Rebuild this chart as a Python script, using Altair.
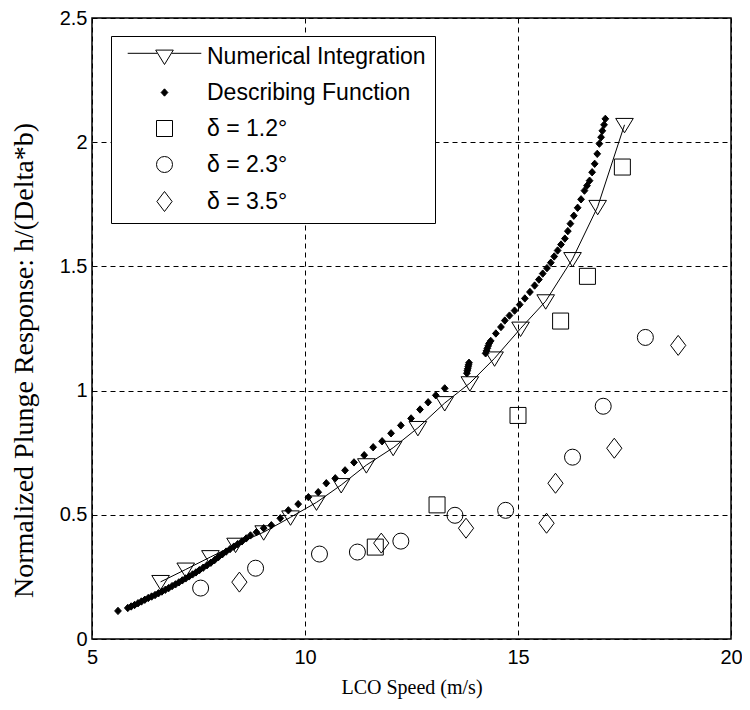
import altair as alt
import pandas as pd

# ---------------- data ----------------
ni_speed = [6.61, 7.20, 7.78, 8.37, 9.03, 9.66, 10.27, 10.85, 11.44, 12.07,
            12.65, 13.28, 13.87, 14.45, 15.06, 15.65, 16.28, 16.87, 17.50]
ni_resp = [0.23, 0.28, 0.33, 0.38, 0.43, 0.49, 0.55, 0.62, 0.70, 0.77,
           0.85, 0.95, 1.03, 1.13, 1.25, 1.36, 1.53, 1.74, 2.07]

df_speed = [5.61, 5.84, 5.92, 6.00, 6.08, 6.16, 6.24, 6.32, 6.40, 6.48,
            6.56, 6.64, 6.72, 6.80, 6.88, 6.96, 7.04, 7.12, 7.20, 7.28,
            7.36, 7.44, 7.52, 7.61, 7.70, 7.79, 7.88, 7.97, 8.06, 8.15,
            8.24, 8.33, 8.42, 8.52, 8.62, 8.72,
            8.86, 9.03, 9.21, 9.42, 9.61, 9.84, 10.08, 10.31, 10.50, 10.71,
            10.94, 11.15, 11.39, 11.60, 11.81, 12.02, 12.25, 12.49, 12.70, 12.89,
            13.07, 13.28,
            13.80, 13.81, 13.82, 13.83, 13.84, 13.85,
            14.24, 14.26, 14.28, 14.30, 14.32, 14.36,
            14.48, 14.60, 14.69, 14.80, 14.92, 15.04, 15.16, 15.28, 15.39, 15.49,
            15.58, 15.68, 15.77, 15.85, 15.93, 16.01, 16.10, 16.17, 16.23, 16.31,
            16.40, 16.48, 16.56, 16.62, 16.68, 16.74, 16.80, 16.86, 16.91, 16.95,
            16.98, 17.02, 17.05]
df_resp = [0.113, 0.125, 0.131, 0.137, 0.144, 0.151, 0.158, 0.165, 0.171, 0.177,
           0.184, 0.191, 0.198, 0.205, 0.213, 0.220, 0.228, 0.236, 0.244, 0.252,
           0.260, 0.268, 0.277, 0.287, 0.297, 0.307, 0.318, 0.330, 0.341, 0.352,
           0.362, 0.372, 0.382, 0.393, 0.405, 0.417,
           0.430, 0.446, 0.458, 0.486, 0.518, 0.543, 0.571, 0.591, 0.627, 0.647,
           0.679, 0.711, 0.740, 0.772, 0.796, 0.828, 0.860, 0.888, 0.924, 0.953,
           0.981, 1.009,
           1.070, 1.080, 1.088, 1.096, 1.104, 1.112,
           1.150, 1.160, 1.170, 1.180, 1.190, 1.200,
           1.230, 1.256, 1.282, 1.302, 1.322, 1.346, 1.371, 1.397, 1.423, 1.447,
           1.471, 1.493, 1.515, 1.540, 1.564, 1.588, 1.612, 1.642, 1.672, 1.704,
           1.736, 1.770, 1.805, 1.825, 1.845, 1.879, 1.913, 1.953, 1.994, 2.020,
           2.046, 2.070, 2.094]

d12_speed = [11.65, 13.10, 15.00, 16.00, 16.63, 17.45]
d12_resp = [0.37, 0.54, 0.90, 1.28, 1.46, 1.90]

d23_speed = [7.55, 8.84, 10.34, 11.23, 12.25, 13.52, 14.71, 16.28, 17.00, 17.99]
d23_resp = [0.205, 0.285, 0.342, 0.350, 0.394, 0.498, 0.518, 0.732, 0.937, 1.214]

d35_speed = [8.46, 11.79, 13.78, 15.67, 15.88, 17.26, 18.76]
d35_resp = [0.229, 0.386, 0.446, 0.466, 0.627, 0.768, 1.182]

series_names = ["Numerical Integration", "Describing Function",
                "δ = 1.2°", "δ = 2.3°", "δ = 3.5°"]

x_ticks = [5, 10, 15, 20]
y_ticks = [0, 0.5, 1, 1.5, 2, 2.5]

# ---------------- tables ----------------
ni = pd.DataFrame({"speed": ni_speed, "resp": ni_resp})
parts = []
for name, xs_, ys_ in [(series_names[1], df_speed, df_resp),
                       (series_names[2], d12_speed, d12_resp),
                       (series_names[3], d23_speed, d23_resp),
                       (series_names[4], d35_speed, d35_resp)]:
    parts.append(pd.DataFrame({"speed": xs_, "resp": ys_, "series": name}))
sym = pd.concat(parts, ignore_index=True)

# marker shapes (unit: sqrt(size)/2 px)
TRI = "M-1.1,-0.8H1.1L0,1.0Z"
TRI_LEGEND = "M-4.6,-0.4H-0.9M0.9,-0.4H4.6M-1.1,-0.8H1.1L0,1.0Z"
DOT = "M0,-0.46L0.42,0L0,0.46L-0.42,0Z"
SQ = "M-1,-1H1V1H-1Z"
DIA = "M0,-1.25L0.95,0L0,1.25L-0.95,0Z"
SIZE = 256

xs = alt.Scale(domain=[5, 20], nice=False, zero=False)
ys = alt.Scale(domain=[0, 2.5], nice=False, zero=False)

x_axis = alt.Axis(values=x_ticks, title="LCO Speed (m/s)", format="~g",
                  labelFlush=False)
y_axis = alt.Axis(values=y_ticks, title="Normalized Plunge Response: h/(Delta*b)",
                  format="~g", labelFlush=False, titleY=342)

legend = alt.Legend(
    title=None, orient="none", legendX=19, legendY=18,
    symbolSize=SIZE, symbolStrokeColor="black", symbolStrokeWidth=1,
    labelFont="Liberation Sans", labelFontSize=23, labelColor="black",
    labelLimit=400,
    labelOffset=31, symbolOffset=33, padding=9, rowPadding=12,
    fillColor="white", strokeColor="black", cornerRadius=0,
)

line = alt.Chart(ni).mark_line(color="black", strokeWidth=1).encode(
    x=alt.X("speed:Q", scale=xs, axis=x_axis),
    y=alt.Y("resp:Q", scale=ys, axis=y_axis),
)

tri = alt.Chart(ni).mark_point(shape=TRI, size=SIZE, filled=False,
                               stroke="black", strokeWidth=1, opacity=1).encode(
    x=alt.X("speed:Q", scale=xs),
    y=alt.Y("resp:Q", scale=ys),
)

points = alt.Chart(sym).mark_point(size=SIZE, strokeWidth=1, opacity=1).encode(
    x=alt.X("speed:Q", scale=xs),
    y=alt.Y("resp:Q", scale=ys),
    shape=alt.Shape("series:N",
                    scale=alt.Scale(domain=series_names,
                                    range=[TRI_LEGEND, DOT, SQ, "circle", DIA]),
                    legend=legend),
    fill=alt.Fill("series:N",
                  scale=alt.Scale(domain=series_names,
                                  range=["transparent", "black", "transparent",
                                         "transparent", "transparent"]),
                  legend=legend),
    stroke=alt.Stroke("series:N",
                      scale=alt.Scale(domain=series_names,
                                      range=["black"] * 5),
                      legend=legend),
)

chart = alt.layer(line, tri, points).properties(
    width=639, height=621,
    autosize=alt.AutoSizeParams(type="none"),
    padding={"left": 84, "top": 10, "right": 11, "bottom": 62},
    background="white",
).configure_view(
    stroke="black", strokeWidth=1.5, fill="white"
).configure_axis(
    grid=True, gridColor="black", gridDash=[5, 4], gridWidth=1, gridOpacity=1,
    domain=False, ticks=False,
    labelFont="Liberation Sans", labelFontSize=20, labelColor="black",
    titleFont="Liberation Serif", titleFontWeight="normal", titleColor="black",
).configure_axisX(
    labelPadding=8, titleFontSize=20, titlePadding=10,
).configure_axisY(
    labelPadding=5, titleFontSize=28, titlePadding=21,
).configure_legend(
    strokeWidth=1
)

chart.save("out.html", embed_options={"renderer": "svg", "actions": False})
